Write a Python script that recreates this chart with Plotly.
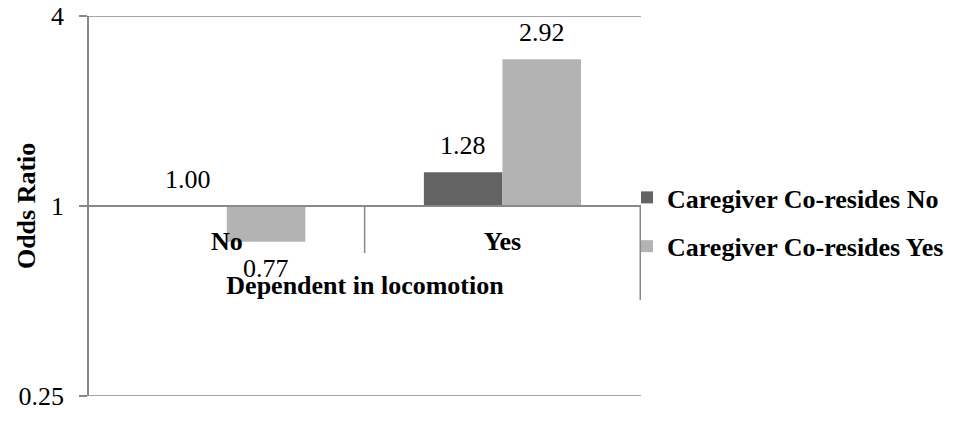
import math
import plotly.graph_objects as go

# ---- data ----
categories = ["No", "Yes"]
series_names = ["Caregiver Co-resides No", "Caregiver Co-resides Yes"]
coresides_no = [1.00, 1.28]
coresides_yes = [0.77, 2.92]
y_tick_vals = [0.25, 1, 4]
y_tick_text = ["0.25", "1", "4"]
x_title = "Dependent in locomotion"
y_title = "Odds Ratio"

# ---- style ----
FONT = "Liberation Serif, Times New Roman, serif"
FS = 26
GRID = "#898989"
colors = ["#636363", "#b3b3b3"]
BARGAP = 0.43
BASE = 1.0
PLOT_H = 380  # plot area height in px

fig = go.Figure()
for name, vals, col in zip(series_names, [coresides_no, coresides_yes], colors):
    fig.add_trace(go.Bar(
        x=categories,
        y=[v - BASE for v in vals],
        base=[BASE] * len(vals),
        name=name,
        legendgroup=name,
        marker=dict(color=col, line=dict(width=0)),
        hoverinfo="skip",
    ))

# value labels
barw = (1 - BARGAP) / 2
annotations = []
for j, vals in enumerate([coresides_no, coresides_yes]):
    for i, v in enumerate(vals):
        up = v >= BASE
        annotations.append(dict(
            x=i + (j - 0.5) * barw, y=math.log10(v), xref="x", yref="y",
            text=f"{v:.2f}", showarrow=False,
            yanchor="bottom" if up else "top",
            yshift=10 if up else -10,
            font=dict(family=FONT, size=FS, color="#000000"),
        ))

# y axis title
annotations.append(dict(
    x=-0.114, y=0.5, xref="paper", yref="paper", text=y_title,
    textangle=-90, showarrow=False, xanchor="center", yanchor="middle",
    font=dict(family=FONT, size=FS, color="#000000", weight="bold"),
))

ylo, yhi = math.log10(min(y_tick_vals)), math.log10(max(y_tick_vals))
cross = (math.log10(BASE) - ylo) / (yhi - ylo)
eps = 1e-6

shapes = []
# gridlines at the range ends (plotly hides those next to the axis edge)
for tv in (min(y_tick_vals), max(y_tick_vals)):
    shapes.append(dict(type="line", xref="paper", yref="y", x0=0, x1=1,
                       y0=tv, y1=tv,
                       line=dict(color=GRID, width=1.5), layer="below"))
# category dividers below the category axis
for k, ln in zip([0.5, 1.5], [47, 94]):
    shapes.append(dict(type="line", xref="x", yref="paper", x0=k, x1=k,
                       y0=cross, y1=cross - ln / PLOT_H,
                       line=dict(color=GRID, width=1.5)))
# chart frame left border
shapes.append(dict(type="line", xref="paper", yref="paper",
                   x0=-0.1504, x1=-0.1504, y0=-0.3, y1=1.2,
                   line=dict(color=GRID, width=1.5)))

fig.update_layout(
    width=952, height=434,
    margin=dict(l=81, r=319, t=8, b=46),
    paper_bgcolor="white", plot_bgcolor="white",
    barmode="group", bargap=BARGAP, bargroupgap=0,
    font=dict(family=FONT, size=FS, color="#000000"),
    showlegend=True,
    legend=dict(
        x=(619 - 81) / 552, xanchor="left", y=0.458, yanchor="middle",
        orientation="v", tracegroupgap=12,
        font=dict(family=FONT, size=FS, color="#000000", weight="bold"),
        bgcolor="rgba(0,0,0,0)",
    ),
    annotations=annotations,
    shapes=shapes,
)
fig.update_xaxes(
    type="category", anchor="free", position=cross,
    showline=True, linecolor=GRID, linewidth=1.5,
    showgrid=False, ticks="", ticklabelstandoff=12,
    tickfont=dict(family=FONT, size=FS, color="#000000", weight="bold"),
    title=dict(text=x_title, standoff=20,
               font=dict(family=FONT, size=FS, color="#000000", weight="bold")),
    automargin=False,
)
fig.update_yaxes(
    type="log", range=[ylo - eps, yhi + eps],
    tickvals=y_tick_vals, ticktext=y_tick_text,
    showgrid=True, gridcolor=GRID, gridwidth=1.5,
    showline=True, linecolor=GRID, linewidth=1.5,
    ticks="outside", ticklen=8, tickcolor=GRID, tickwidth=1.5,
    ticklabelstandoff=10, ticklabeloverflow="allow",
    tickfont=dict(family=FONT, size=FS, color="#000000"),
    zeroline=False, automargin=False,
)

fig.write_html("out.html")
